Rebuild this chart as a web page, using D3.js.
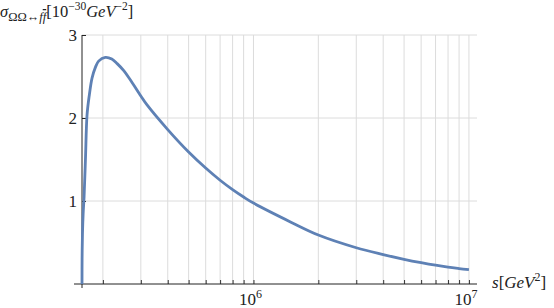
<!DOCTYPE html>
<html>
<head>
<meta charset="utf-8">
<script src="https://cdn.jsdelivr.net/npm/d3@7"></script>
<style>
  html, body { margin: 0; padding: 0; background: #fff; }
  svg { display: block; }
  text { font-family: "Liberation Serif", "DejaVu Serif", serif; fill: #222; }
</style>
</head>
<body>
<svg id="chart" width="554" height="308"></svg>
<script>
// ---- data ----
const sValues = [1.6e5, 1.6015e5, 1.608e5, 1.62e5, 1.636e5, 1.66e5, 1.689e5, 1.731e5, 1.781e5, 1.846e5, 1.911e5, 2.053e5, 2.2e5, 2.33e5, 2.5e5, 2.68e5, 3.0e5, 3.2e5, 4e5, 5e5, 6e5, 7e5, 8e5, 9e5, 1e6, 1.5e6, 2e6, 3e6, 4e6, 5e6, 6e6, 7e6, 8e6, 9e6, 1e7];
const sigmaValues = [0, 0.3, 0.6, 0.85, 1.05, 1.5, 2.04, 2.28, 2.48, 2.61, 2.685, 2.73, 2.71, 2.655, 2.57, 2.46, 2.265, 2.16, 1.86, 1.59, 1.397, 1.25, 1.137, 1.048, 0.975, 0.742, 0.59, 0.437, 0.355, 0.298, 0.257, 0.226, 0.203, 0.186, 0.172];
const xGridValues = [2e5, 3e5, 4e5, 5e5, 6e5, 7e5, 8e5, 9e5, 1e6, 2e6, 3e6, 4e6, 5e6, 6e6, 7e6, 8e6, 9e6, 1e7];
const xLabelExponents = [6, 7];
const yTickValues = [1, 2, 3];

const svg = d3.select("#chart");
const x = d3.scaleLog().domain([1.6e5, 1.09e7]).range([82, 477]);
const y = d3.scaleLinear().domain([0, 3]).range([284, 35]);

// gridlines
const grid = svg.append("g");
grid.selectAll("line.v").data(xGridValues).enter().append("line")
  .attr("x1", d => x(d)).attr("x2", d => x(d))
  .attr("y1", y(0)).attr("y2", y(3))
  .attr("stroke", "#dcdcdc").attr("stroke-width", 1);
grid.selectAll("line.h").data(yTickValues).enter().append("line")
  .attr("x1", x.range()[0]).attr("x2", x.range()[1])
  .attr("y1", d => y(d)).attr("y2", d => y(d))
  .attr("stroke", "#dcdcdc").attr("stroke-width", 1);

// x axis
const xAxis = d3.axisTop(x).tickValues(xGridValues).tickSize(4).tickFormat("");
const gx = svg.append("g").attr("transform", `translate(0,${y(0)})`).call(xAxis);
gx.select(".domain").remove();
gx.selectAll(".tick line").attr("stroke", "#333");
svg.append("line").attr("x1", 74).attr("x2", x.range()[1])
  .attr("y1", y(0)).attr("y2", y(0)).attr("stroke", "#222").attr("stroke-width", 1);

// y axis
const yAxis = d3.axisRight(y).tickValues(yTickValues).tickSize(4).tickFormat("");
const gy = svg.append("g").attr("transform", `translate(${x.range()[0]},0)`).call(yAxis);
gy.select(".domain").remove();
gy.selectAll(".tick line").attr("stroke", "#222");
svg.append("line").attr("x1", x.range()[0]).attr("x2", x.range()[0])
  .attr("y1", y(3)).attr("y2", y(0) + 4).attr("stroke", "#222").attr("stroke-width", 1);

// y tick labels
svg.selectAll("text.ytl").data(yTickValues).enter().append("text")
  .attr("x", 77).attr("y", d => y(d) + 6)
  .attr("text-anchor", "end").attr("font-size", 17)
  .text(d => d);

// x tick labels 10^n
xLabelExponents.forEach(e => {
  const t = svg.append("text").attr("x", x(Math.pow(10, e)) - 3).attr("y", 305)
    .attr("text-anchor", "middle").attr("font-size", 17);
  t.append("tspan").text("10");
  t.append("tspan").attr("dy", -7).attr("font-size", 12).text(e);
});

// curve
const line = d3.line()
  .x((d, i) => x(sValues[i]))
  .y(d => y(d))
  .curve(d3.curveCatmullRom.alpha(0.5));
svg.append("path").datum(sigmaValues)
  .attr("d", line)
  .attr("fill", "none").attr("stroke", "#5E81B5")
  .attr("stroke-width", 2.8).attr("stroke-linejoin", "round");

// x axis label  s[GeV^2]
const xl = svg.append("text").attr("x", 492).attr("y", 288).attr("font-size", 17);
xl.append("tspan").attr("font-style", "italic").text("s");
xl.append("tspan").text("[");
xl.append("tspan").attr("font-style", "italic").text("GeV");
xl.append("tspan").attr("dy", -7).attr("font-size", 12).text("2");
xl.append("tspan").attr("dy", 7).text("]");

// y axis label  σ_{ΩΩ↔f f̄}[10^{-30} GeV^{-2}]
const yl = svg.append("text").attr("x", 0).attr("y", 17).attr("font-size", 16.5);
yl.append("tspan").attr("font-style", "italic").text("σ");
yl.append("tspan").attr("dy", 4).attr("font-size", 12.5).text("ΩΩ↔");
yl.append("tspan").attr("font-size", 12.5).attr("font-style", "italic").text("f");
yl.append("tspan").attr("font-size", 12.5).attr("font-style", "italic")
  .attr("text-decoration", "overline").text("f");
yl.append("tspan").attr("dy", -4).text("[10");
yl.append("tspan").attr("dy", -7).attr("font-size", 11.5).text("−30");
yl.append("tspan").attr("dy", 7).attr("font-style", "italic").text("GeV");
yl.append("tspan").attr("dy", -7).attr("font-size", 11.5).text("−2");
yl.append("tspan").attr("dy", 7).text("]");
</script>
</body>
</html>
